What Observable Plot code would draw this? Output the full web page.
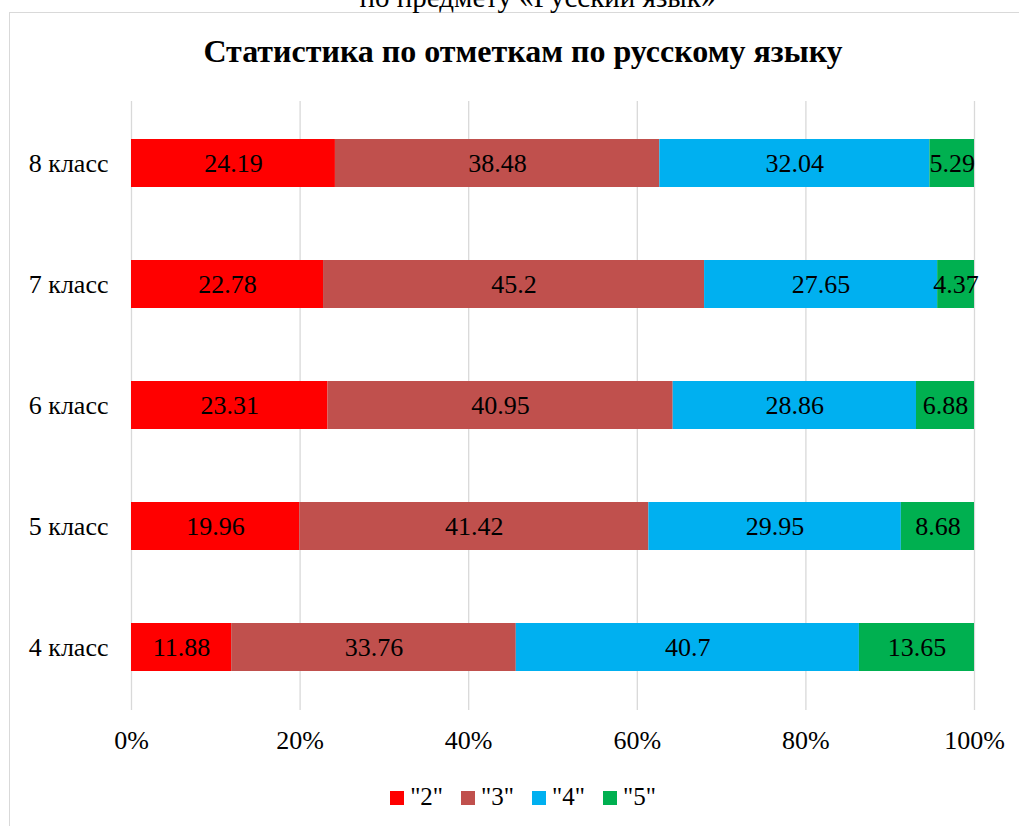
<!DOCTYPE html>
<html>
<head>
<meta charset="utf-8">
<script src="https://cdn.jsdelivr.net/npm/d3@7"></script>
<script src="https://cdn.jsdelivr.net/npm/@observablehq/plot@0.6"></script>
<style>
  html, body { margin: 0; padding: 0; background: #fff; }
  body { width: 1019px; height: 826px; overflow: hidden; position: relative;
         font-family: "Liberation Serif", "Times New Roman", serif; color: #000; }
  #frame { position: absolute; left: 9px; top: 12px; width: 1100px; height: 900px;
           border-top: 1px solid #d9d9d9; border-left: 1px solid #d9d9d9; }
  #cut { position: absolute; left: 0; width: 1075px; top: -17px; text-align: center;
         font-size: 29px; line-height: 1; white-space: nowrap; }
  #title { position: absolute; left: 0; width: 1046px; top: 35px; text-align: center;
           font-size: 32px; font-weight: bold; line-height: 1; white-space: nowrap; }
  #chart { position: absolute; left: 0; top: 80px; }
  #legend { position: absolute; left: 0; width: 1046px; top: 784px; text-align: center;
            font-size: 25px; line-height: 25px; white-space: nowrap; }
  .item { display: inline-block; margin: 0 9px; }
  .sw { display: inline-block; width: 14px; height: 14px; margin-right: 6px; vertical-align: 0px; }
</style>
</head>
<body>
<div id="frame"></div>
<div id="cut">по предмету «Русский язык»</div>
<div id="title">Статистика по отметкам по русскому языку</div>
<div id="chart"></div>
<div id="legend"></div>
<script>
const classes = ["8 класс", "7 класс", "6 класс", "5 класс", "4 класс"];
const grades = ['"2"', '"3"', '"4"', '"5"'];
const colors = ["#FF0000", "#C0504D", "#00B0F0", "#00B050"];
const grade2 = [24.19, 22.78, 23.31, 19.96, 11.88];
const grade3 = [38.48, 45.2, 40.95, 41.42, 33.76];
const grade4 = [32.04, 27.65, 28.86, 29.95, 40.7];
const grade5 = [5.29, 4.37, 6.88, 8.68, 13.65];
const xTicks = [0, 0.2, 0.4, 0.6, 0.8, 1];

const series = [grade2, grade3, grade4, grade5];
const data = [];
classes.forEach((cls, i) => {
  grades.forEach((g, j) => data.push({ cls, grade: g, value: series[j][i] }));
});

const chart = Plot.plot({
  width: 1019,
  height: 680,
  marginTop: 21,
  marginBottom: 50,
  marginLeft: 131,
  marginRight: 45,
  style: { fontFamily: '"Liberation Serif", "Times New Roman", serif', fontSize: "26px", color: "#000", background: "transparent", overflow: "visible" },
  x: { domain: [0, 1], label: null },
  y: { domain: classes, paddingInner: 0.6, paddingOuter: 0.3, label: null },
  color: { domain: grades, range: colors },
  marks: [
    Plot.gridX(xTicks, { stroke: "#d9d9d9", strokeOpacity: 1, strokeWidth: 1.3 }),
    Plot.axisX({ ticks: xTicks, tickFormat: d3.format(".0%"), tickSize: 0, tickPadding: 20, fontSize: 26, label: null }),
    Plot.axisY({ tickSize: 0, tickPadding: 23, fontSize: 26, label: null }),
    Plot.barX(data, Plot.stackX({ x: "value", y: "cls", fill: "grade", z: "grade", offset: "normalize" })),
    Plot.text(data, Plot.stackX({ x: "value", y: "cls", z: "grade", offset: "normalize", text: d => String(d.value), fill: "#000", fontSize: 26 }))
  ]
});
document.getElementById("chart").appendChild(chart);

const legend = document.getElementById("legend");
grades.forEach((g, i) => {
  const it = document.createElement("span");
  it.className = "item";
  const sw = document.createElement("span");
  sw.className = "sw";
  sw.style.background = colors[i];
  it.appendChild(sw);
  it.appendChild(document.createTextNode(g));
  legend.appendChild(it);
});
</script>
</body>
</html>
